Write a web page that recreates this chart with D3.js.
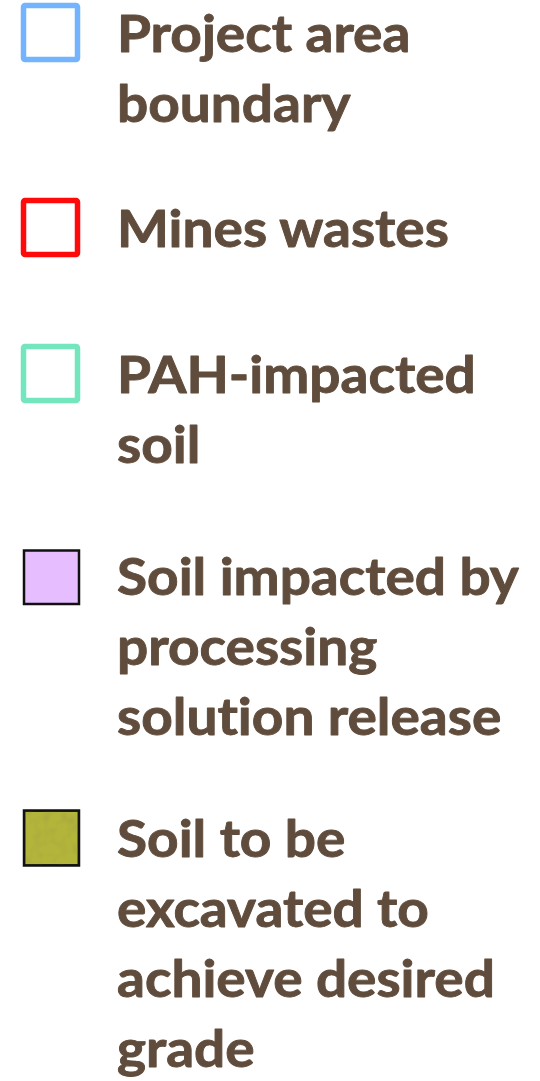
<!DOCTYPE html>
<html lang="en">
<head>
    <meta charset="UTF-8">
    <title>Legend</title>
    <style>
        html, body {
            margin: 0;
            padding: 0;
            background: #fff;
        }
        svg {
            display: block;
        }
        .label {
            font-family: Lato, "Open Sans", sans-serif;
            font-weight: 700;
            font-variant-ligatures: none;
            fill: #604c3c;
            stroke: #604c3c;
            stroke-width: 0.9px;
            stroke-linejoin: round;
        }
    </style>
    <script src="https://d3js.org/d3.v7.min.js"></script>
</head>
<body>
    <svg id="legend" width="540" height="1081"></svg>
    <script>
        // Legend entries (text lines per item)
        const labels = [
            ["Project area", "boundary"],
            ["Mines wastes"],
            ["PAH-impacted", "soil"],
            ["Soil impacted by", "processing", "solution release"],
            ["Soil to be", "excavated to", "achieve desired", "grade"]
        ];
        const strokeColors = ["#74b4ff", "#ff0a0a", "#74e6be", "#111111", "#111111"];
        const fillColors = ["none", "none", "none", "#e6bdff", "#b3b53b"];
        const textured = [false, false, false, false, true];

        // Layout
        const lineHeight = 70;
        const gapBefore = [52, 125, 146, 132, 122]; // baseline to baseline between items
        const textX = 117;
        const fontSize = 51;
        const targetWidth = 402; // width of "Soil impacted by" in the picture

        const svg = d3.select("#legend");

        // Grainy texture for the excavation swatch
        const defs = svg.append("defs");
        const filter = defs.append("filter").attr("id", "grain")
            .attr("x", 0).attr("y", 0).attr("width", 1).attr("height", 1);
        filter.append("feTurbulence")
            .attr("type", "fractalNoise")
            .attr("baseFrequency", 0.09)
            .attr("numOctaves", 2)
            .attr("seed", 4)
            .attr("result", "noise");
        filter.append("feColorMatrix")
            .attr("in", "noise")
            .attr("type", "matrix")
            .attr("values", "0 0 0 0 0.35  0 0 0 0 0.33  0 0 0 0 0.05  0 0 0 1.1 -0.45")
            .attr("result", "shade");
        filter.append("feComposite")
            .attr("in", "shade").attr("in2", "SourceGraphic")
            .attr("operator", "atop")
            .attr("result", "tex");
        filter.append("feMerge").call(m => {
            m.append("feMergeNode").attr("in", "SourceGraphic");
            m.append("feMergeNode").attr("in", "tex");
        });

        // compute first baseline of each entry
        const baselines = [];
        labels.forEach((lines, i) => {
            const prev = i === 0 ? 0 : baselines[i - 1] + (labels[i - 1].length - 1) * lineHeight;
            baselines.push(prev + gapBefore[i]);
        });

        const items = svg.selectAll("g.item")
            .data(labels)
            .join("g")
            .attr("class", "item")
            .attr("transform", (d, i) => `translate(0,${baselines[i]})`);

        // Swatches
        items.each(function(d, i) {
            const g = d3.select(this);
            const outline = fillColors[i] === "none";
            const sw = outline ? 5.5 : 2.5;
            g.append("rect")
                .attr("x", outline ? 23.5 : 24)
                .attr("y", outline ? -46.5 : (i === 4 ? -46.5 : -44.5))
                .attr("width", outline ? 54 : 55)
                .attr("height", outline ? 54 : (i === 4 ? 55 : 53.5))
                .attr("rx", outline ? 1.5 : 0)
                .attr("fill", outline ? "none" : fillColors[i])
                .attr("stroke", strokeColors[i])
                .attr("stroke-width", sw)
                .attr("filter", textured[i] ? "url(#grain)" : null);
            if (textured[i]) {
                // redraw border on top so filter does not soften it
                g.append("rect")
                    .attr("x", 24).attr("y", -46.5)
                    .attr("width", 55).attr("height", 55)
                    .attr("fill", "none")
                    .attr("stroke", strokeColors[i])
                    .attr("stroke-width", sw);
            }
        });

        // Labels
        const text = items.selectAll("text")
            .data(d => d)
            .join("text")
            .attr("class", "label")
            .attr("x", textX)
            .attr("y", (d, j) => j * lineHeight)
            .style("font-size", fontSize + "px")
            .text(d => d);

        // Condense horizontally to match the narrow face of the original
        const ref = text.filter(d => d === "Soil impacted by").node();
        const w = ref ? ref.getComputedTextLength() : targetWidth;
        const sx = targetWidth / w;
        text.attr("transform", `translate(${textX},0) scale(${sx},1) translate(${-textX},0)`);
    </script>
</body>
</html>
